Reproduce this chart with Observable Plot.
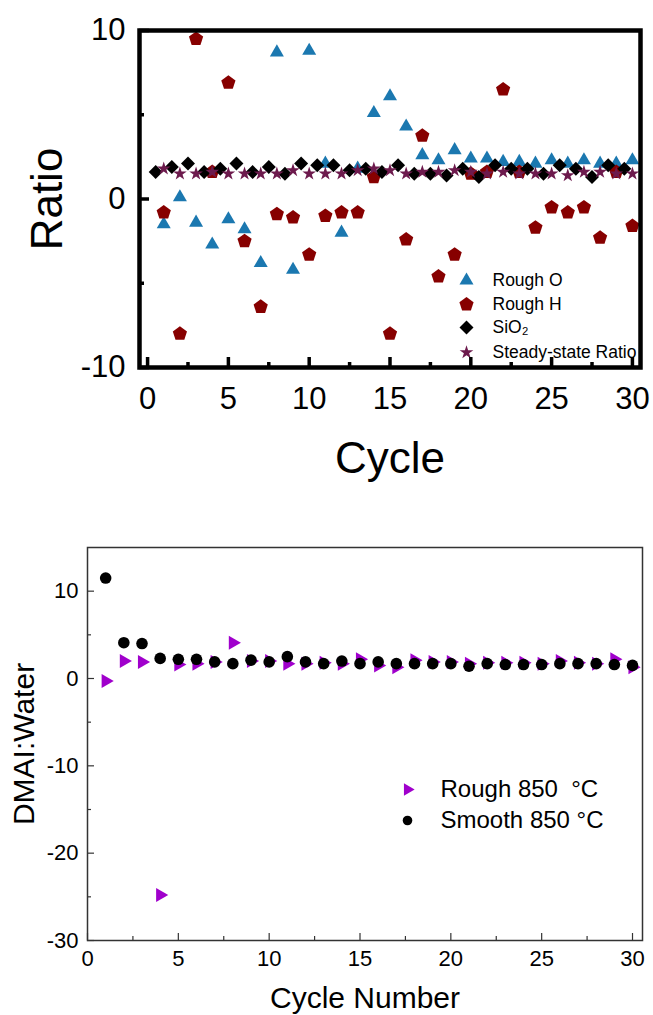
<!DOCTYPE html>
<html>
<head>
<meta charset="utf-8">
<script src="https://cdn.jsdelivr.net/npm/d3@7"></script>
<script src="https://cdn.jsdelivr.net/npm/@observablehq/plot@0.6"></script>
<style>
  html, body { margin: 0; padding: 0; background: #ffffff; }
  #top, #bottom { display: block; width: 653px; }
  svg { display: block; }
</style>
</head>
<body>
<div id="top"></div>
<div id="bottom"></div>
<script>
// ---------- Top chart data ----------
const cycles = [1,2,3,4,5,6,7,8,9,10,11,12,13,14,15,16,17,18,19,20,21,22,23,24,25,26,27,28,29,30];
const sio2Cycles = [0.5,1.5,2.5,3.5,4.5,5.5,6.5,7.5,8.5,9.5,10.5,11.5,12.5,13.5,14.5,15.5,16.5,17.5,18.5,19.5,20.5,21.5,22.5,23.5,24.5,25.5,26.5,27.5,28.5,29.5];
const roughO = [-1.5,0.1,-1.4,-2.7,-1.2,-1.8,-3.8,8.7,-4.2,8.8,2.1,-2.0,1.8,5.1,6.1,4.3,2.6,2.3,2.9,2.4,2.4,2.2,2.2,2.1,2.3,2.1,2.3,2.1,2.1,2.3];
const roughH = [-0.8,-8.0,9.5,1.6,6.9,-2.5,-6.4,-0.9,-1.1,-3.3,-1.0,-0.8,-0.8,1.3,-8.0,-2.4,3.75,-4.6,-3.3,1.5,1.6,6.5,1.6,-1.7,-0.5,-0.8,-0.5,-2.3,1.6,-1.6];
const sio2 = [1.6,1.9,2.1,1.6,1.8,2.1,1.6,1.9,1.5,2.1,2.0,2.0,1.7,1.8,1.6,2.0,1.5,1.5,1.4,1.8,1.3,2.0,1.8,1.8,1.5,2.0,1.8,1.3,2.0,1.8];
const steady = [1.8,1.5,1.5,1.6,1.5,1.5,1.5,1.5,1.7,1.5,1.5,1.5,1.7,1.8,1.7,1.5,1.6,1.6,1.7,1.6,1.5,1.6,1.5,1.5,1.5,1.4,1.6,1.6,1.5,1.5];
const topXTicks = [0,5,10,15,20,25,30];
const topXMinor = [2.5,7.5,12.5,17.5,22.5,27.5];
const topYTicks = [-10,0,10];
const topYMinor = [-5,5];
const topLegend = ["Rough O","Rough H","SiO\u2082","Steady-state Ratio"];

// ---------- Bottom chart data ----------
const smooth850 = [11.5,4.1,4.0,2.3,2.2,2.2,1.9,1.7,2.1,1.9,2.5,1.9,1.7,2.0,1.7,1.9,1.7,1.7,1.7,1.7,1.4,1.7,1.6,1.6,1.6,1.7,1.7,1.7,1.6,1.5];
const rough850 = [-0.3,2.0,1.9,-24.8,1.6,1.7,1.9,4.1,2.0,2.0,1.7,1.7,1.8,1.7,2.2,1.5,1.3,2.1,1.9,1.9,1.7,1.8,1.8,1.8,1.7,2.0,1.8,1.7,2.2,1.3];
const botXTicks = [0,5,10,15,20,25,30];
const botXMinor = [2.5,7.5,12.5,17.5,22.5,27.5];
const botYTicks = [-30,-20,-10,0,10];
const botYMinor = [-25,-15,-5,5];
const botLegend = ["Rough 850\u00a0 \u00b0C","Smooth 850 \u00b0C"];

const FONT = "'Liberation Sans', Arial, Helvetica, sans-serif";

const pentagon = {
  draw(ctx, size) {
    const R = Math.sqrt(size / 2.378);
    for (let i = 0; i < 5; i++) {
      const a = -Math.PI / 2 + i * 2 * Math.PI / 5;
      const px = R * Math.cos(a), py = R * Math.sin(a);
      if (i === 0) ctx.moveTo(px, py); else ctx.lineTo(px, py);
    }
    ctx.closePath();
  }
};

const cBlue = "#1b78b0", cRed = "#870000", cStar = "#6d1a4d", cBlack = "#000000";

const topO = cycles.map((c, i) => ({c, v: roughO[i]}));
const topH = cycles.map((c, i) => ({c, v: roughH[i]}));
const topS = sio2Cycles.map((c, i) => ({c, v: sio2[i]}));
const topSt = cycles.map((c, i) => ({c, v: steady[i]}));

const legendSymbols = ["triangle", pentagon, "diamond2", "star"];
const legendFills = [cBlue, cRed, cBlack, cStar];
const legendR = [5.2, 6.5, 6.3, 4.3];
const legendDy = [250, 274, 297, 322];

const topLegendMarks = [];
topLegend.forEach((name, i) => {
  topLegendMarks.push(Plot.dot([name], {frameAnchor: "top-left", dx: 327, dy: legendDy[i], symbol: legendSymbols[i], fill: legendFills[i], r: legendR[i], stroke: "none"}));
  topLegendMarks.push(Plot.text([name], {frameAnchor: "top-left", dx: 353, dy: legendDy[i], text: d => d, textAnchor: "start", lineAnchor: "middle", fontSize: 17.5, fill: "#000"}));
});

const topPlot = Plot.plot({
  width: 653,
  height: 500,
  marginLeft: 139,
  marginRight: 13,
  marginTop: 30,
  marginBottom: 133,
  style: {fontFamily: FONT, color: "#000", background: "#fff", overflow: "visible"},
  x: {domain: [-0.5, 30.5]},
  y: {domain: [-10, 10]},
  marks: [
    Plot.dot(topO, {x: "c", y: "v", symbol: "triangle", fill: cBlue, r: 5.2, stroke: "none"}),
    Plot.dot(topH, {x: "c", y: "v", symbol: pentagon, fill: cRed, r: 6.5, stroke: "none"}),
    Plot.dot(topS, {x: "c", y: "v", symbol: "diamond2", fill: cBlack, r: 6.3, stroke: "none"}),
    Plot.dot(topSt, {x: "c", y: "v", symbol: "star", fill: cStar, r: 4.3, stroke: "none"}),
    ...topLegendMarks,
    Plot.axisX({ticks: topXTicks, tickSize: 0, tickPadding: 19, fontSize: 31, label: null, tickFormat: d => String(d)}),
    Plot.axisX({ticks: topXTicks, tickSize: 10, dy: -10, text: null, label: null, strokeWidth: 3.5, stroke: "#000"}),
    Plot.axisX({ticks: topXMinor, tickSize: 5, dy: -5, text: null, label: null, strokeWidth: 3.5, stroke: "#000"}),
    Plot.axisY({ticks: topYTicks, tickSize: 0, tickPadding: 14, fontSize: 31, label: null, tickFormat: d => String(d)}),
    Plot.axisY({ticks: topYTicks, tickSize: 10, dx: 10, text: null, label: null, strokeWidth: 3.5, stroke: "#000"}),
    Plot.axisY({ticks: topYMinor, tickSize: 5, dx: 5, text: null, label: null, strokeWidth: 3.5, stroke: "#000"}),
    Plot.frame({stroke: "#000", strokeWidth: 4.5}),
    Plot.text(["Cycle"], {frameAnchor: "bottom", dy: 91, text: d => d, fontSize: 44, textAnchor: "middle", lineAnchor: "middle", fill: "#000"}),
    Plot.text(["Ratio"], {frameAnchor: "left", dx: -92, text: d => d, fontSize: 44, rotate: -90, textAnchor: "middle", lineAnchor: "middle", fill: "#000"})
  ]
});
document.getElementById("top").appendChild(topPlot);

// ---------- Bottom chart ----------
const botR = cycles.map((c, i) => ({c, v: rough850[i]}));
const botS = cycles.map((c, i) => ({c, v: smooth850[i]}));

const botLegendMarks = [
  Plot.dot([botLegend[0]], {frameAnchor: "top-left", dx: 320, dy: 242, symbol: "triangle", rotate: 90, fill: "#a000cc", r: 4.6, stroke: "none"}),
  Plot.text([botLegend[0]], {frameAnchor: "top-left", dx: 353, dy: 242, text: d => d, textAnchor: "start", lineAnchor: "middle", fontSize: 24, fill: "#000"}),
  Plot.dot([botLegend[1]], {frameAnchor: "top-left", dx: 320, dy: 273, symbol: "circle", fill: "#000", r: 4.8, stroke: "none"}),
  Plot.text([botLegend[1]], {frameAnchor: "top-left", dx: 353, dy: 273, text: d => d, textAnchor: "start", lineAnchor: "middle", fontSize: 24, fill: "#000"})
];

const botPlot = Plot.plot({
  width: 653,
  height: 515,
  marginLeft: 87,
  marginRight: 11,
  marginTop: 47,
  marginBottom: 75,
  style: {fontFamily: FONT, color: "#000", background: "#fff", overflow: "visible"},
  x: {domain: [0, 30.55]},
  y: {domain: [-30, 15]},
  marks: [
    Plot.dot(botR, {x: "c", y: "v", symbol: "triangle", rotate: 90, fill: "#a000cc", r: 5.2, stroke: "none"}),
    Plot.dot(botS, {x: "c", y: "v", symbol: "circle", fill: "#000", r: 5.8, stroke: "none"}),
    ...botLegendMarks,
    Plot.axisX({ticks: botXTicks, tickSize: 0, tickPadding: 10, fontSize: 22, label: null, tickFormat: d => String(d)}),
    Plot.axisX({ticks: botXTicks, tickSize: 7, dy: -7, text: null, label: null, strokeWidth: 1.2, stroke: "#333"}),
    Plot.axisX({ticks: botXMinor, tickSize: 4, dy: -4, text: null, label: null, strokeWidth: 1.2, stroke: "#333"}),
    Plot.axisY({ticks: botYTicks, tickSize: 0, tickPadding: 9, fontSize: 22, label: null, tickFormat: d => String(d)}),
    Plot.axisY({ticks: botYTicks, tickSize: 7, dx: 7, text: null, label: null, strokeWidth: 1.2, stroke: "#333"}),
    Plot.axisY({ticks: botYMinor, tickSize: 4, dx: 4, text: null, label: null, strokeWidth: 1.2, stroke: "#333"}),
    Plot.frame({stroke: "#333", strokeWidth: 1.5}),
    Plot.text(["Cycle Number"], {frameAnchor: "bottom", dy: 58, text: d => d, fontSize: 30, textAnchor: "middle", lineAnchor: "middle", fill: "#000"}),
    Plot.text(["DMAI:Water"], {frameAnchor: "left", dx: -63, text: d => d, fontSize: 30, rotate: -90, textAnchor: "middle", lineAnchor: "middle", fill: "#000"})
  ]
});
document.getElementById("bottom").appendChild(botPlot);
</script>
</body>
</html>
